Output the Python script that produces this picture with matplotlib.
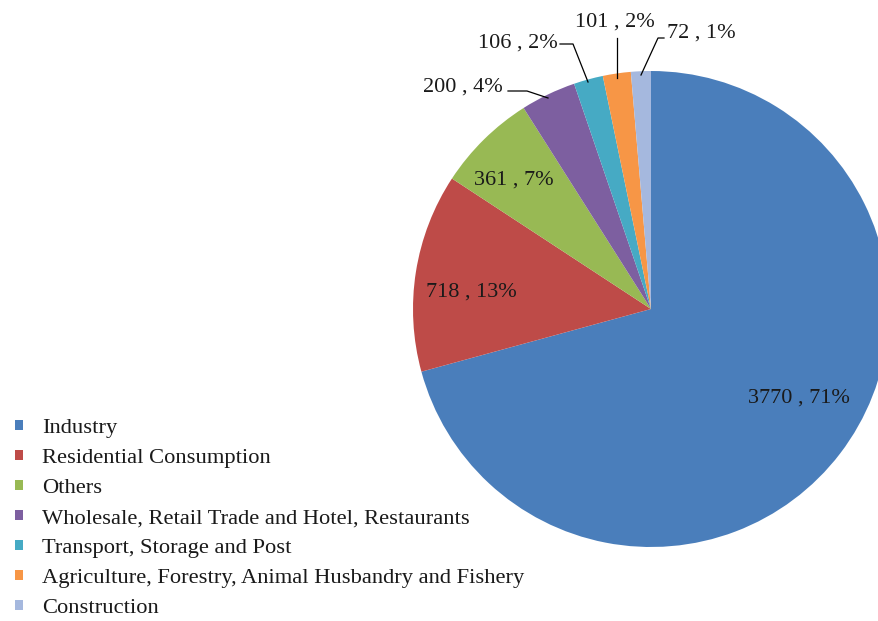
import matplotlib
matplotlib.use("Agg")
import matplotlib.pyplot as plt
from matplotlib.patches import Patch

categories = ["Industry", "Residential Consumption", "Others",
              "Wholesale, Retail Trade and Hotel, Restaurants",
              "Transport, Storage and Post",
              "Agriculture, Forestry, Animal Husbandry and Fishery",
              "Construction"]
values = [3770, 718, 361, 200, 106, 101, 72]
percents = ["71%", "13%", "7%", "4%", "2%", "2%", "1%"]
colors = ["#4A7EBB", "#BE4B48", "#98B954", "#7D5FA0", "#46AAC4", "#F79646", "#A5B8DE"]

plt.rcParams['font.family'] = ['Liberation Serif', 'DejaVu Serif']

fig = plt.figure(figsize=(8.79, 6.21), dpi=100)
ax = fig.add_axes([0, 0, 1, 1])

cx, cy, r = 651, 621 - 309, 238
wedges, _ = ax.pie(values, colors=colors, startangle=90, counterclock=False,
                   center=(cx, cy), radius=r, frame=True,
                   wedgeprops=dict(linewidth=0))
ax.set_xlim(0, 879)
ax.set_ylim(0, 621)
ax.set_aspect('equal')
ax.axis('off')

labels = [f"{v} , {p}" for v, p in zip(values, percents)]
fs = 16
# inside labels (image pixel coords -> data)
inside = {0: (799, 398), 1: (471, 292), 2: (514, 180)}
for i, (x, y) in inside.items():
    ax.text(x, 621 - y, labels[i], fontsize=fs, ha='center', va='center', color='#1a1a1a')

# outside labels with leader lines
outside = {
    3: dict(text=(463, 87), line=[(508, 91), (527, 91), (548, 98)]),
    4: dict(text=(518, 43), line=[(560, 44), (573, 44), (588, 82)]),
    5: dict(text=(615, 22), line=[(617, 38), (617, 78)]),
    6: dict(text=(701, 33), line=[(664, 38), (658, 38), (641, 75)]),
}
for i, d in outside.items():
    tx, ty = d['text']
    ax.text(tx, 621 - ty, labels[i], fontsize=fs, ha='center', va='center', color='#1a1a1a')
    xs = [p[0] for p in d['line']]
    ys = [621 - p[1] for p in d['line']]
    ax.plot(xs, ys, color='black', lw=0.9)

handles = [Patch(facecolor=c, edgecolor='none') for c in colors]
leg = ax.legend(handles, categories, loc='upper left',
                bbox_to_anchor=(15 / 879, 1 - 419 / 621), bbox_transform=fig.transFigure,
                frameon=False, fontsize=16.2, handlelength=0.36, handleheight=0.36,
                handletextpad=0.85, labelspacing=0.49, borderpad=0, borderaxespad=0)
for t in leg.get_texts():
    t.set_color('#1a1a1a')

fig.savefig("out.png", dpi=100)
